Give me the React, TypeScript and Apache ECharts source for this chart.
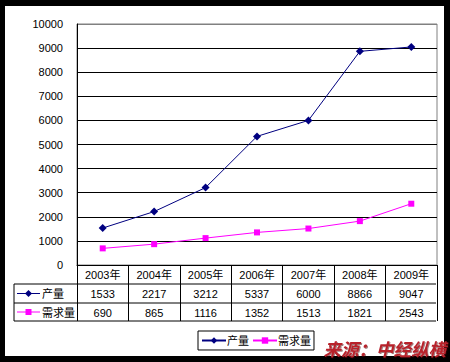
import React, { useEffect, useRef } from "react";
import * as echarts from "echarts";

const categories = ["2003年", "2004年", "2005年", "2006年", "2007年", "2008年", "2009年"];
const production = [1533, 2217, 3212, 5337, 6000, 8866, 9047];
const demand = [690, 865, 1116, 1352, 1513, 1821, 2543];
const seriesNames = ["产量", "需求量"];
const sourceText = "来源：中经纵横";

const W = 450;
const H = 362;
const GL = 77;
const GR = 437;
const GT = 24;
const GB = 265;
const ROW = 19;
const TL = 14;
const FONT = "'Liberation Sans', 'Noto Sans CJK SC', sans-serif";
const NAVY = "#000080";
const MAG = "#FF00FF";

export default function App() {
  const ref = useRef<HTMLDivElement>(null);
  useEffect(() => {
    if (!ref.current) return;
    const chart = echarts.init(ref.current, null, { renderer: "svg" });
    const lineY1 = GB + ROW;
    const lineY2 = GB + ROW * 2;
    const lineY3 = GB + ROW * 3 - 1;
    const graphics: any[] = [
      { type: "line", shape: { x1: TL, y1: lineY1, x2: GR - 1, y2: lineY1 }, style: { stroke: "#000", lineWidth: 1 } },
      { type: "line", shape: { x1: TL, y1: lineY2, x2: GR - 1, y2: lineY2 }, style: { stroke: "#000", lineWidth: 1 } },
      { type: "line", shape: { x1: TL, y1: lineY3, x2: GR - 1, y2: lineY3 }, style: { stroke: "#000", lineWidth: 1 } },
      { type: "line", shape: { x1: TL, y1: lineY1, x2: TL, y2: lineY3 }, style: { stroke: "#000", lineWidth: 1 } },
      // row 1 legend cell
      { type: "line", shape: { x1: 17, y1: lineY1 + 9.5, x2: 40, y2: lineY1 + 9.5 }, style: { stroke: NAVY, lineWidth: 1 } },
      { type: "polygon", shape: { points: [[28.5, lineY1 + 6], [32, lineY1 + 9.5], [28.5, lineY1 + 13], [25, lineY1 + 9.5]] }, style: { fill: NAVY } },
      { type: "text", x: 42, y: lineY1 + 10, style: { text: seriesNames[0], fontSize: 11, fontFamily: FONT, fill: "#000", verticalAlign: "middle" } },
      // row 2 legend cell
      { type: "line", shape: { x1: 17, y1: lineY2 + 9, x2: 40, y2: lineY2 + 9 }, style: { stroke: MAG, lineWidth: 1 } },
      { type: "rect", shape: { x: 25.5, y: lineY2 + 6, width: 6, height: 6 }, style: { fill: MAG } },
      { type: "text", x: 42, y: lineY2 + 9.5, style: { text: seriesNames[1], fontSize: 11, fontFamily: FONT, fill: "#000", verticalAlign: "middle" } },
      // source
      {
        type: "text", x: 446, y: 348,
        style: {
          text: sourceText, fontSize: 17.5, fontWeight: "bold", fontStyle: "italic", fontFamily: "'Noto Sans CJK SC', sans-serif",
          fill: "#b8222c", align: "right", verticalAlign: "middle",
          textShadowColor: "rgba(60,0,0,0.5)", textShadowOffsetX: 1, textShadowOffsetY: 1, textShadowBlur: 1,
        },
      },
    ];
    const splitColors = Array.from({ length: 11 }, (_, i) => (i === 10 ? "#808080" : "#000"));
    chart.setOption({
      animation: false,
      backgroundColor: "transparent",
      grid: { left: GL, right: W - GR, top: GT, bottom: H - GB, show: true, borderColor: "#808080", borderWidth: 1, backgroundColor: "transparent" },
      legend: {
        left: 198, top: 331, orient: "horizontal",
        padding: [4, 3, 4, 3], itemGap: 3, itemWidth: 24, itemHeight: 8,
        borderColor: "#000", borderWidth: 1, borderRadius: 0,
        textStyle: { fontSize: 11, fontFamily: FONT, color: "#000", padding: [0, 0, 0, -4] },
        data: seriesNames,
      },
      xAxis: {
        type: "category", data: categories, boundaryGap: true,
        axisLine: { lineStyle: { color: "#000", width: 1 } },
        axisTick: { show: true, length: ROW * 3 - 1, inside: false, lineStyle: { color: "#000" }, alignWithLabel: false },
        axisLabel: {
          margin: 0, interval: 0,
          formatter: (v: string, i: number) => `{h|${v}}\n{r|${production[i]}}\n{r|${demand[i]}}`,
          rich: {
            h: { fontSize: 11, fontFamily: FONT, color: "#000", lineHeight: ROW, height: ROW },
            r: { fontSize: 11, fontFamily: FONT, color: "#000", lineHeight: ROW, height: ROW },
          },
        },
        splitLine: { show: false },
      },
      yAxis: {
        type: "value", min: 0, max: 10000, interval: 1000,
        axisLine: { show: true, lineStyle: { color: "#000" } },
        axisTick: { show: false },
        axisLabel: { margin: 14, fontSize: 11, fontFamily: FONT, color: "#000", formatter: (v: number) => String(v) },
        splitLine: { show: true, lineStyle: { color: splitColors, width: 1 } },
      },
      series: [
        {
          name: seriesNames[0], type: "line", data: production,
          symbol: "diamond", symbolSize: 8, showAllSymbol: true,
          lineStyle: { color: NAVY, width: 1 }, itemStyle: { color: NAVY },
        },
        {
          name: seriesNames[1], type: "line", data: demand,
          symbol: "rect", symbolSize: 6, showAllSymbol: true,
          lineStyle: { color: MAG, width: 1 }, itemStyle: { color: MAG },
        },
      ],
      graphic: graphics,
    });
    return () => chart.dispose();
  }, []);
  return (
    <div style={{ position: "fixed", left: 0, top: 0, width: W, height: H, background: "#000" }}>
      <div style={{ position: "absolute", left: 5, top: 6, width: 439, height: 350, background: "#fff" }} />
      <div ref={ref} style={{ position: "absolute", left: 0, top: 0, width: W, height: H }} />
    </div>
  );
}
